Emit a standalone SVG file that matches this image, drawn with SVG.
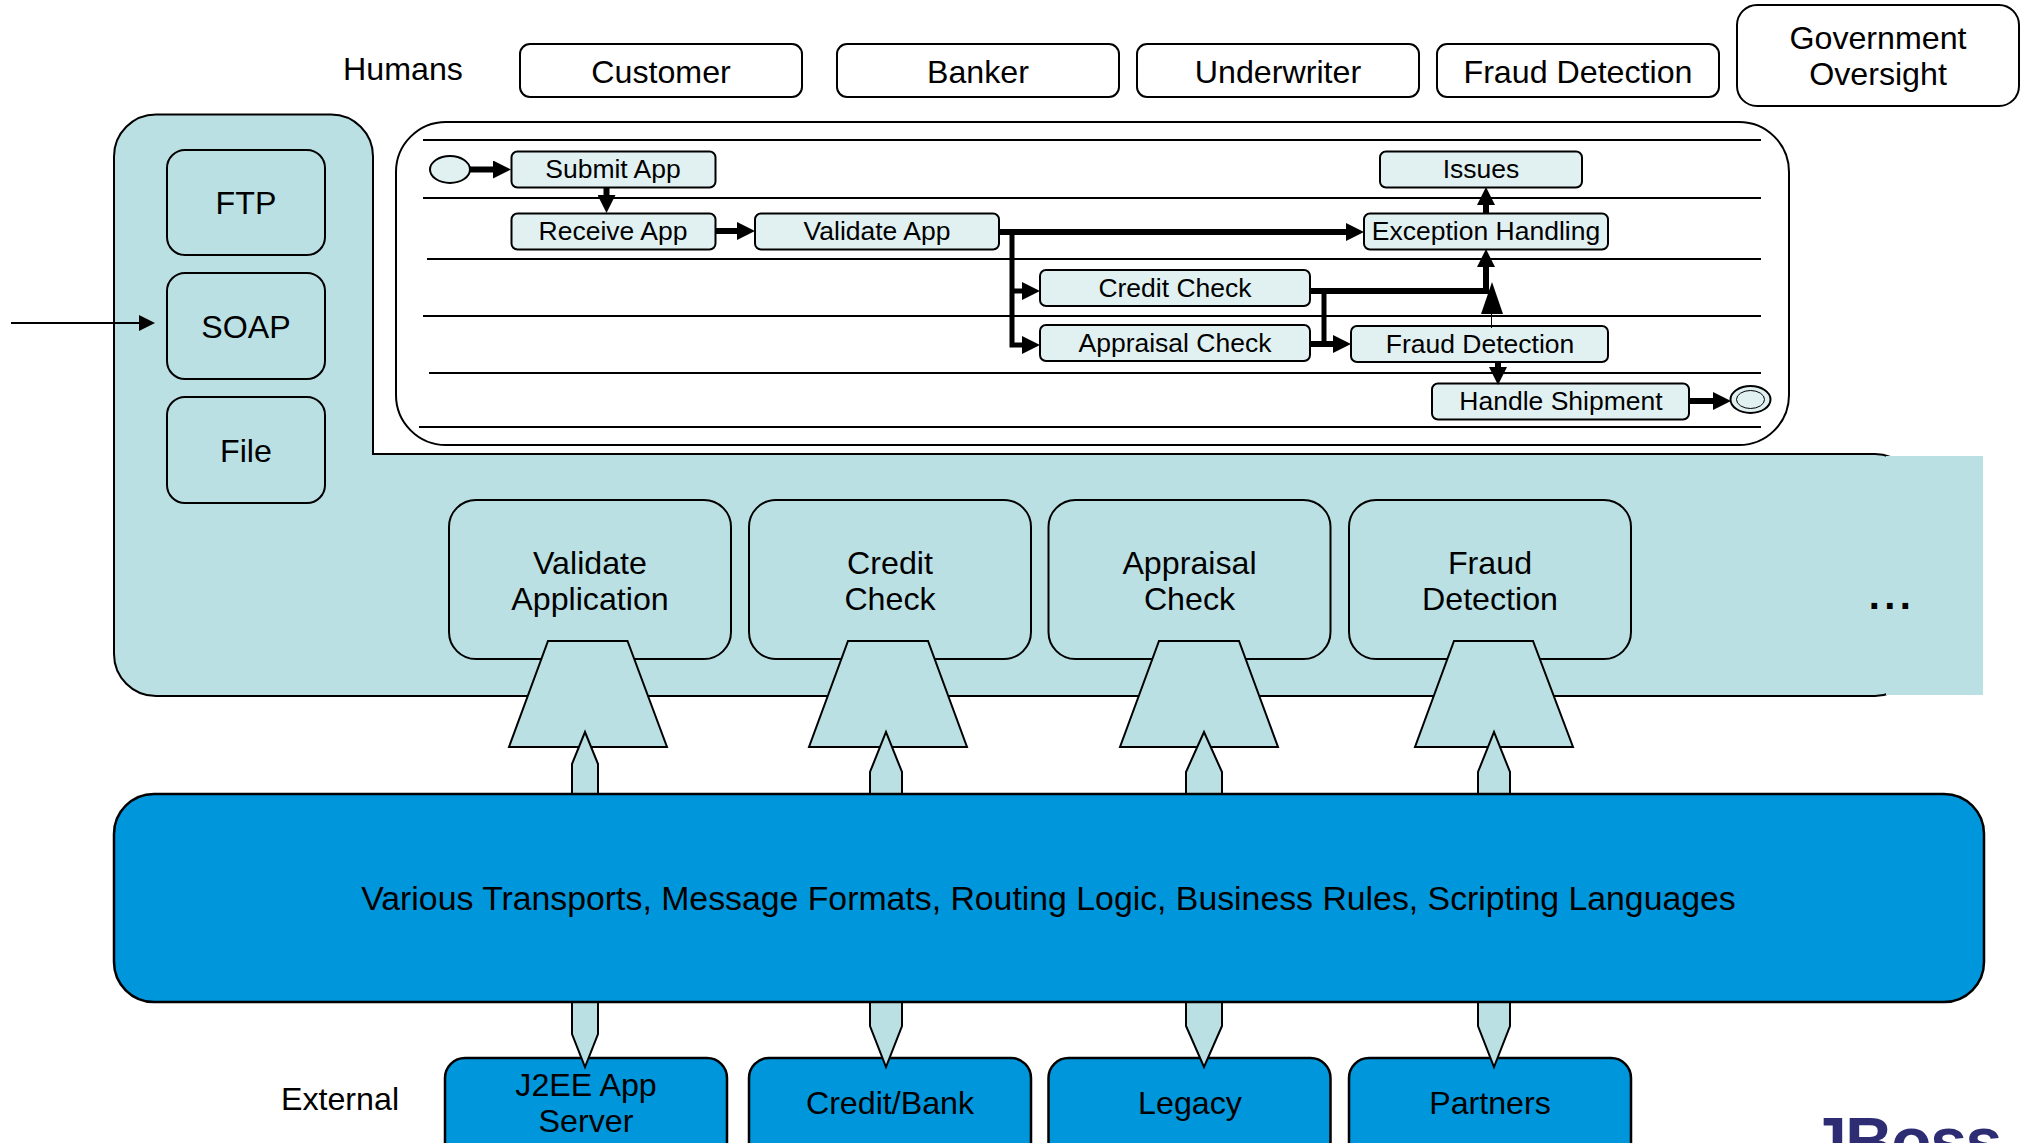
<svg xmlns="http://www.w3.org/2000/svg" width="2027" height="1143" viewBox="0 0 2027 1143">
<style>
text{font-family:"Liberation Sans",Arial,sans-serif;fill:#000;text-anchor:middle}
.t32{font-size:32.2px}.t26{font-size:26.5px}.t34{font-size:33.8px}
.ol{fill:#fff;stroke:#000;stroke-width:2}
.teal{fill:#bae0e3;stroke:#000;stroke-width:2}
.blue{fill:#0096db;stroke:#000;stroke-width:2.5}
.act{fill:#e1f1f2;stroke:#000;stroke-width:2}
.lane{fill:none;stroke:#000;stroke-width:2}
.flow{fill:none;stroke:#000;stroke-width:6;marker-end:url(#h)}
.flow2{fill:none;stroke:#000;stroke-width:5}
</style>
<defs>
<marker id="h" markerUnits="userSpaceOnUse" markerWidth="18" markerHeight="18" refX="0" refY="9" orient="auto"><path d="M0 0L18 9L0 18Z" fill="#000"/></marker>
</defs>
<rect width="2027" height="1143" fill="#fff"/>

<g id="label-humans"><text class="t32" x="403" y="80">Humans</text></g>
<g id="customer"><rect class="ol" x="520" y="44" width="282" height="53" rx="10"/><text class="t32" x="661" y="82.500">Customer</text></g>
<g id="banker"><rect class="ol" x="837" y="44" width="282" height="53" rx="10"/><text class="t32" x="978" y="82.500">Banker</text></g>
<g id="underwriter"><rect class="ol" x="1137" y="44" width="282" height="53" rx="10"/><text class="t32" x="1278" y="82.500">Underwriter</text></g>
<g id="fraud-human"><rect class="ol" x="1437" y="44" width="282" height="53" rx="10"/><text class="t32" x="1578" y="82.500">Fraud Detection</text></g>
<g id="government"><rect class="ol" x="1737" y="5" width="282" height="101" rx="20"/><text class="t32" x="1878" y="49">Government</text><text class="t32" x="1878" y="85">Oversight</text></g>

<g id="esb">
<path class="teal" d="M156 114.500H331A42 42 0 0 1 373 156.500V454H1875A40 40 0 0 1 1915 494V656A40 40 0 0 1 1875 696H156A42 42 0 0 1 114 654V156.500A42 42 0 0 1 156 114.500Z"/>
<rect x="1886" y="456" width="97" height="239" fill="#bae0e3" stroke="none"/>
<text x="1892" y="609" style="font-size:40px;font-weight:bold;letter-spacing:4.400px">...</text>
</g>
<g id="ftp"><rect class="teal" x="167" y="150" width="158" height="105" rx="18"/><text class="t32" x="246" y="214">FTP</text></g>
<g id="soap"><rect class="teal" x="167" y="273" width="158" height="106" rx="18"/><text class="t32" x="246" y="338">SOAP</text></g>
<g id="file"><rect class="teal" x="167" y="397" width="158" height="106" rx="18"/><text class="t32" x="246" y="461.500">File</text></g>

<g id="process">
<rect class="ol" x="396" y="122" width="1393" height="323" rx="50"/>
<path class="lane" d="M423 140H1761M423 198H1761M427 259H1761M423 316H1761M429 373H1761M419 427H1761"/>
</g>

<g id="validate-application"><rect class="teal" x="449" y="500" width="282" height="159" rx="27"/><text class="t32" x="590" y="573.500">Validate</text><text class="t32" x="590" y="609.500">Application</text></g>
<g id="credit-check-svc"><rect class="teal" x="749" y="500" width="282" height="159" rx="27"/><text class="t32" x="890" y="573.500">Credit</text><text class="t32" x="890" y="609.500">Check</text></g>
<g id="appraisal-check-svc"><rect class="teal" x="1048.500" y="500" width="282" height="159" rx="27"/><text class="t32" x="1189.500" y="573.500">Appraisal</text><text class="t32" x="1189.500" y="609.500">Check</text></g>
<g id="fraud-detection-svc"><rect class="teal" x="1349" y="500" width="282" height="159" rx="27"/><text class="t32" x="1490" y="573.500">Fraud</text><text class="t32" x="1490" y="609.500">Detection</text></g>

<g id="adapters">
<path class="teal" d="M548 641H627.500L667 747H509Z"/>
<path class="teal" d="M848 641H928L967 747H809Z"/>
<path class="teal" d="M1159 641H1239L1278 747H1120Z"/>
<path class="teal" d="M1454 641H1533L1573 747H1415Z"/>
<path class="teal" d="M572 795V764L585 732L598 764V795Z"/>
<path class="teal" d="M870 795V772L886 732L902 772V795Z"/>
<path class="teal" d="M1186 795V772L1204 732L1222 772V795Z"/>
<path class="teal" d="M1478 795V772L1494 732L1510 772V795Z"/>
</g>

<g id="j2ee"><rect class="blue" x="445" y="1058" width="282" height="110" rx="20"/><text class="t32" x="586" y="1095.500">J2EE App</text><text class="t32" x="586" y="1131.500">Server</text></g>
<g id="credit-bank"><rect class="blue" x="749" y="1058" width="282" height="110" rx="20"/><text class="t32" x="890" y="1113.500">Credit/Bank</text></g>
<g id="legacy"><rect class="blue" x="1048.500" y="1058" width="282" height="110" rx="20"/><text class="t32" x="1190" y="1113.500">Legacy</text></g>
<g id="partners"><rect class="blue" x="1349" y="1058" width="282" height="110" rx="20"/><text class="t32" x="1490" y="1113.500">Partners</text></g>
<g id="down-wedges">
<path class="teal" d="M572 1000V1034L585 1067L598 1034V1000Z"/>
<path class="teal" d="M870 1000V1026L886 1067L902 1026V1000Z"/>
<path class="teal" d="M1186 1000V1026L1204 1067L1222 1026V1000Z"/>
<path class="teal" d="M1478 1000V1026L1494 1067L1510 1026V1000Z"/>
</g>
<g id="bus"><rect class="blue" x="114" y="794" width="1870" height="208" rx="40"/><text class="t34" x="1048.500" y="910">Various Transports, Message Formats, Routing Logic, Business Rules, Scripting Languages</text></g>
<g id="label-external"><text class="t32" x="340" y="1109.500">External</text></g>

<g id="start"><ellipse class="act" cx="450" cy="169.500" rx="20" ry="13.500"/></g>
<g id="end"><ellipse class="act" cx="1750.500" cy="399.500" rx="20" ry="13.500"/><ellipse class="act" cx="1750.500" cy="399.500" rx="14" ry="9" style="stroke-width:1"/></g>
<g id="submit-app"><rect class="act" x="511.500" y="151.500" width="204" height="36" rx="6"/><text class="t26" x="613" y="178">Submit App</text></g>
<g id="receive-app"><rect class="act" x="511.500" y="213.500" width="204" height="36" rx="6"/><text class="t26" x="613" y="240">Receive App</text></g>
<g id="validate-app"><rect class="act" x="755" y="213.500" width="244" height="36" rx="6"/><text class="t26" x="877" y="240">Validate App</text></g>
<g id="issues"><rect class="act" x="1380" y="151.500" width="202" height="36" rx="6"/><text class="t26" x="1481" y="178">Issues</text></g>
<g id="exception-handling"><rect class="act" x="1364" y="213.500" width="244" height="36" rx="6"/><text class="t26" x="1486" y="240">Exception Handling</text></g>
<g id="credit-check"><rect class="act" x="1040" y="270" width="270" height="36" rx="6"/><text class="t26" x="1175" y="297">Credit Check</text></g>
<g id="appraisal-check"><rect class="act" x="1040" y="325" width="270" height="36" rx="6"/><text class="t26" x="1175" y="352">Appraisal Check</text></g>
<g id="fraud-detection"><rect class="act" x="1351" y="326" width="257" height="36" rx="6"/><text class="t26" x="1480" y="353">Fraud Detection</text></g>
<g id="handle-shipment"><rect class="act" x="1432" y="383.500" width="257" height="36" rx="6"/><text class="t26" x="1561" y="410">Handle Shipment</text></g>

<g id="connectors">
<path d="M11 323H139" stroke="#000" stroke-width="2" fill="none"/><path d="M139 315L155 323L139 331Z" fill="#000"/>
<path class="flow" d="M470 169.500H493"/>
<path class="flow" d="M606.500 187V195"/>
<path class="flow" d="M715 231H737"/>
<path class="flow" d="M999 232H1346"/>
<path class="flow" d="M1012 232V345H1022" style="stroke-width:5"/>
<path class="flow" d="M1012 291H1022" style="stroke-width:5"/>
<path class="flow" d="M1310 291H1486V267"/>
<path class="flow2" d="M1324 291V344"/>
<path class="flow" d="M1310 344H1333"/>
<path class="flow" d="M1486 213V205"/>
<path class="flow" d="M1498 362V367"/>
<path class="flow" d="M1689 401H1713"/>
<path d="M1491.500 328V310" stroke="#000" stroke-width="1" fill="none"/><path d="M1481 314L1492 282L1503 314Z" fill="#000"/>
</g>

<g id="jboss-logo"><text x="1810" y="1164" style="font-size:66px;font-weight:bold;letter-spacing:-1.500px;text-anchor:start;fill:#2e2d74">JBoss</text></g>
</svg>
